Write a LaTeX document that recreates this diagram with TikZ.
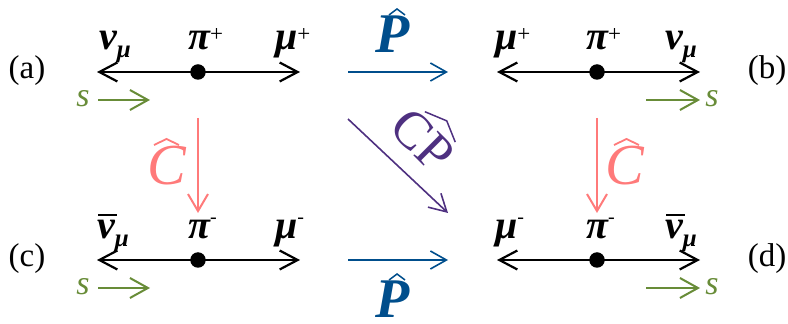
\documentclass[tikz,border=0pt]{standalone}
\usepackage{fontspec}
\setmainfont{Liberation Serif}
\usetikzlibrary{arrows.meta}
\definecolor{pblue}{RGB}{0,78,140}
\definecolor{cpink}{RGB}{255,122,122}
\definecolor{cppurple}{RGB}{78,48,128}
\definecolor{sgreen}{RGB}{104,140,56}
\newcommand\gr[1]{{\fontsize{40}{40}\selectfont\bfseries\itshape #1}}
\newcommand\subm{\raisebox{-8pt}{\fontsize{25}{25}\selectfont\bfseries\itshape μ}}
\newcommand\supplus{\raisebox{8pt}{\fontsize{23}{23}\selectfont +}}
\newcommand\supminus{\raisebox{15pt}{\fontsize{20}{20}\selectfont -}}
\newcommand\nubar{\rlap{\raisebox{23pt}{\kern1pt\rule{19pt}{1.8pt}}}\gr{ν}}
\begin{document}
\begin{tikzpicture}[x=1pt,y=1pt,
  lbl/.style={inner sep=0pt,anchor=base west},
  tag/.style={inner sep=0pt,anchor=base,font=\fontsize{33}{33}\selectfont},
  spin/.style={inner sep=0pt,anchor=base,text=sgreen,font=\fontsize{34}{34}\selectfont\itshape},
  decay/.style={line width=2.2pt,{Straight Barb[length=18pt,width=19pt]}-{Straight Barb[length=18pt,width=19pt]}},
  dot/.style={circle,fill=black,inner sep=0pt,minimum size=15.5pt},
  sarrow/.style={draw=sgreen,line width=2pt,-{Straight Barb[length=18pt,width=20pt]}},
  parrow/.style={draw=pblue,line width=1.6pt,-{Straight Barb[length=16pt,width=18pt]}},
  carrow/.style={draw=cpink,line width=2pt,-{Straight Barb[length=17pt,width=20pt]}},
  cparrow/.style={draw=cppurple,line width=1.6pt,-{Straight Barb[length=17pt,width=19pt]}},
  pop/.style={inner sep=0pt,anchor=base,text=pblue,font=\fontsize{56}{56}\selectfont\bfseries\itshape},
  cop/.style={inner sep=0pt,anchor=base,text=cpink,font=\fontsize{58}{58}\selectfont\itshape},
]
\useasboundingbox (0,0) rectangle (788,324);

% ---- (a) ----
\node[tag] (ta) at (27,245) {(a)};
\coordinate (aL) at (97,252); \coordinate (aR) at (300,252);
\draw[decay] (aL) -- (aR);
\node[dot] (da) at (198,252) {};
\node[lbl] (a1) at (99,274) {\gr{ν}\subm};
\node[lbl] (a2) at (188,274) {\gr{π}\supplus};
\node[lbl] (a3) at (275,274) {\gr{μ}\supplus};
\node[spin] (sa) at (83,217) {s};
\coordinate (saL) at (98,224); \coordinate (saR) at (150,224);
\draw[sarrow] (saL) -- (saR);

% ---- (b) ----
\node[tag] (tb) at (767,245) {(b)};
\coordinate (bL) at (497,252); \coordinate (bR) at (700,252);
\draw[decay] (bL) -- (bR);
\node[dot] (db) at (597,252) {};
\node[lbl] (b1) at (495,274) {\gr{μ}\supplus};
\node[lbl] (b2) at (586,274) {\gr{π}\supplus};
\node[lbl] (b3) at (665,274) {\gr{ν}\subm};
\node[spin] (sb) at (712,217) {s};
\coordinate (sbL) at (646,224); \coordinate (sbR) at (700,224);
\draw[sarrow] (sbL) -- (sbR);

% ---- (c) ----
\node[tag] (tc) at (27,57) {(c)};
\coordinate (cL) at (97,64); \coordinate (cR) at (300,64);
\draw[decay] (cL) -- (cR);
\node[dot] (dc) at (198,64) {};
\node[lbl] (c1) at (97,85) {\nubar\subm};
\node[lbl] (c2) at (188,85) {\gr{π}\supminus};
\node[lbl] (c3) at (275,85) {\gr{μ}\supminus};
\node[spin] (sc) at (83,29) {s};
\coordinate (scL) at (98,36); \coordinate (scR) at (150,36);
\draw[sarrow] (scL) -- (scR);

% ---- (d) ----
\node[tag] (td) at (767,57) {(d)};
\coordinate (dL) at (497,64); \coordinate (dR) at (700,64);
\draw[decay] (dL) -- (dR);
\node[dot] (dd) at (597,64) {};
\node[lbl] (d1) at (495,85) {\gr{μ}\supminus};
\node[lbl] (d2) at (586,85) {\gr{π}\supminus};
\node[lbl] (d3) at (665,85) {\nubar\subm};
\node[spin] (sd) at (712,29) {s};
\coordinate (sdL) at (646,36); \coordinate (sdR) at (700,36);
\draw[sarrow] (sdL) -- (sdR);

% ---- P operators ----
\coordinate (p1s) at (348,252); \coordinate (p1e) at (448,252);
\draw[parrow] (p1s) -- (p1e);
\node[pop] (P1) at (393,271) {P};
\draw[pblue,line width=1.5pt] (389,309) -- (397,315) -- (405,309);
\coordinate (p2s) at (348,64); \coordinate (p2e) at (448,64);
\draw[parrow] (p2s) -- (p2e);
\node[pop] (P2) at (393,6) {P};
\draw[pblue,line width=1.5pt] (389,44) -- (397,50) -- (405,44);

% ---- C operators ----
\coordinate (c1s) at (198,206); \coordinate (c1e) at (198,111);
\draw[carrow] (c1s) -- (c1e);
\node[cop] (C1) at (167,139) {C};
\draw[cpink,line width=1.8pt] (154,179) -- (166.5,185) -- (179,179);
\coordinate (c2s) at (597,206); \coordinate (c2e) at (597,111);
\draw[carrow] (c2s) -- (c2e);
\node[cop] (C2) at (625,139) {C};
\draw[cpink,line width=1.8pt] (614,179) -- (626.5,185) -- (639,179);

% ---- CP operator ----
\coordinate (cps) at (348,205); \coordinate (cpe) at (448,111);
\draw[cparrow] (cps) -- (cpe);
\begin{scope}[shift={(410,172)},rotate=-45]
  \node[inner sep=0pt,anchor=base,text=cppurple,transform shape,font=\fontsize{53}{53}\selectfont] (CP) at (0,0) {CP};
  \draw[cppurple,line width=1.5pt] (-18,39) -- (4,48) -- (25,39);
\end{scope}
\end{tikzpicture}
\end{document}
